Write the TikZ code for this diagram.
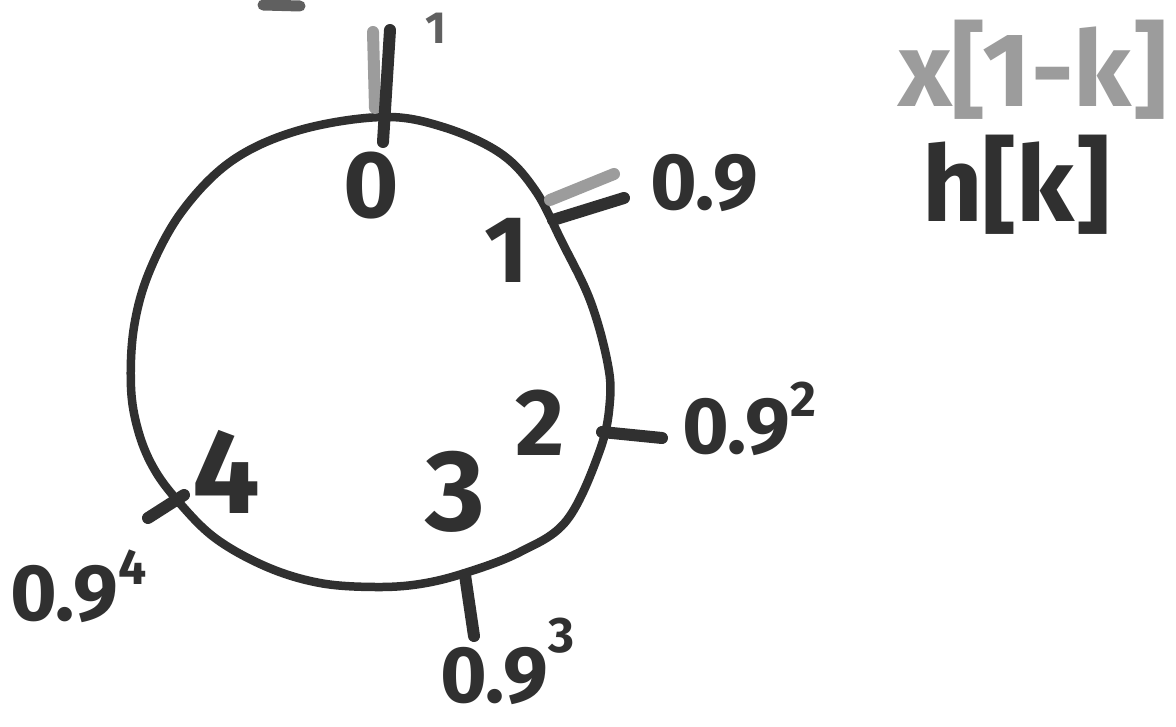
\documentclass[tikz,border=0pt]{standalone}
\usepackage{fontspec}
\setmainfont{Fira Sans}
\definecolor{ink}{HTML}{303030}
\definecolor{pale}{HTML}{9C9C9C}
\definecolor{mid}{HTML}{606060}
\begin{document}
\begin{tikzpicture}[x=1pt,y=-1pt]
\tikzset{
  ring/.style={draw=ink, line width=8.5pt},
  tickd/.style={draw=ink, line width=12pt, line cap=round},
  tickg/.style={draw=pale, line width=12pt, line cap=round},
  inner/.style={font=\fontsize{95}{95}\selectfont\bfseries, text=ink, inner sep=0pt},
  val/.style={font=\fontsize{80}{80}\selectfont\bfseries, text=ink, inner sep=0pt, anchor=base west},
  legend/.style={font=\fontsize{105}{105}\selectfont\bfseries, inner sep=0pt, anchor=base west},
}
\newcommand{\supnum}[2]{{\fontsize{50}{50}\selectfont\raisebox{#1}{#2}}}
\useasboundingbox (0,0) rectangle (1176,727);
\fill[white] (0,0) rectangle (1176,727);

% the ring
\draw[ring] plot[smooth cycle, tension=0.6] coordinates {
 (383,117) (443,127) (500,153) (535,190) (562,242) (590,300)
 (607,360) (610,400) (600,450) (567,520) (520,552)
 (465,573) (420,584) (375,587) (320,583) (267,567) (215,538)
 (177,500) (153,467) (138,430) (131,387) (134,327) (150,270) (183,210)
 (233,160) (300,130)};

% tick end points
\coordinate (p0) at (383,142);   \coordinate (q0) at (390,30);
\coordinate (g0a) at (375,108);  \coordinate (g0b) at (373,32);
\coordinate (g1a) at (550,200);  \coordinate (g1b) at (614,174);
\coordinate (p1) at (553,220);   \coordinate (q1) at (624,198);
\coordinate (p2) at (602,432);   \coordinate (q2) at (662,438);
\coordinate (p3) at (465,575);   \coordinate (q3) at (474,636);
\coordinate (p4) at (184,495);   \coordinate (q4) at (148,518);
\coordinate (m1) at (263,5);     \coordinate (m2) at (300,6);

\draw[tickg] (g0a) -- (g0b);
\draw[tickd] (p0) -- (q0);
\draw[tickg] (g1a) -- (g1b);
\draw[tickd] (p1) -- (q1);
\draw[tickd] (p2) -- (q2);
\draw[tickd] (p3) -- (q3);
\draw[tickd] (p4) -- (q4);
\draw[draw=mid, line width=11pt, line cap=round] (m1) -- (m2);

% inner indices
\node[inner] (n0) at (371,186) {0};
\node[inner] (n1) at (507,250) {1};
\node[inner] (n2) at (540,423) {2};
\node[inner, font=\fontsize{115}{115}\selectfont\bfseries] (n3) at (455,492) {3};
\node[inner, font=\fontsize{120}{120}\selectfont\bfseries] (n4) at (226,472) {4};

% values
\node[font=\fontsize{45}{45}\selectfont\bfseries, text=mid, inner sep=0pt] (v0) at (436,28) {1};
\node[val] (v1) at (650,210) {0.9};
\node[val] (v2) at (682,453) {0.9\supnum{36pt}{2}};
\node[val] (v3) at (440,702) {0.9\supnum{50pt}{3}};
\node[val] (v4) at (10,620) {0.9\supnum{36pt}{4}};

% legend
\node[legend, text=pale] (lx) at (898,107) {x[1-k]};
\node[legend, text=ink] (lh) at (922,222) {h[k]};
\end{tikzpicture}
\end{document}
